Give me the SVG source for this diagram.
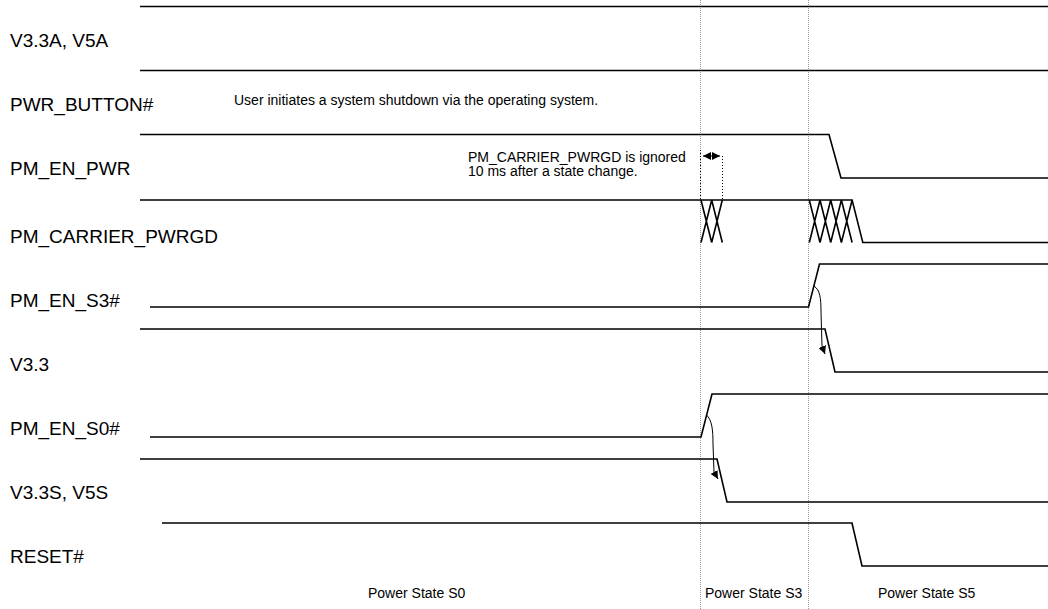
<svg xmlns="http://www.w3.org/2000/svg" width="1048" height="609" viewBox="0 0 1048 609">
<style>
.sig{fill:none;stroke:#000;stroke-width:1.6}
.grid{fill:none;stroke:#999;stroke-width:1;stroke-dasharray:1,1}
.dot{fill:none;stroke:#000;stroke-width:1;stroke-dasharray:1,2}
.cause{fill:none;stroke:#000;stroke-width:1}
.lbl{font-family:"Liberation Sans",Arial,sans-serif;font-size:19px;fill:#000}
.note{font-family:"Liberation Sans",Arial,sans-serif;font-size:14px;fill:#000}
</style>
<defs>
<marker id="ah" viewBox="0 0 10 10" refX="10" refY="5" markerWidth="8" markerHeight="8" markerUnits="userSpaceOnUse" orient="auto">
<path d="M0,0 L10,5 L0,10 z" fill="#000"/>
</marker>
<marker id="ahs" viewBox="0 0 10 10" refX="0" refY="5" markerWidth="8" markerHeight="8" markerUnits="userSpaceOnUse" orient="auto">
<path d="M10,0 L0,5 L10,10 z" fill="#000"/>
</marker>
</defs>
<rect width="1048" height="609" fill="#fff"/>
<g id="gridlines">
<line class="grid" x1="700.5" y1="0" x2="700.5" y2="609"/>
<line class="grid" x1="808.5" y1="0" x2="808.5" y2="609"/>
</g>
<g id="labels">
<text class="lbl" x="10" y="47">V3.3A, V5A</text>
<text class="lbl" x="10" y="111">PWR_BUTTON#</text>
<text class="lbl" x="10" y="174.5">PM_EN_PWR</text>
<text class="lbl" x="10" y="242.5">PM_CARRIER_PWRGD</text>
<text class="lbl" x="10" y="306.5">PM_EN_S3#</text>
<text class="lbl" x="10" y="370.5">V3.3</text>
<text class="lbl" x="10" y="434.5">PM_EN_S0#</text>
<text class="lbl" x="10" y="498.5">V3.3S, V5S</text>
<text class="lbl" x="10" y="562.5">RESET#</text>
</g>
<g id="sig-v33a"><path class="sig" d="M140,6.5 H1048"/></g>
<g id="sig-pwr-button"><path class="sig" d="M140,70.5 H1048"/>
<text class="note" x="234" y="105">User initiates a system shutdown via the operating system.</text></g>
<g id="sig-pm-en-pwr"><path class="sig" d="M140,134.5 H829 L841,178 H1048"/></g>
<g id="sig-pm-carrier-pwrgd">
<path class="sig" d="M140,200 H852.1 L862.8,242.5 H1048"/>
<path class="sig" d="M701,200 L711.7,242.5 M711.7,200 L701,242.5 M711.7,200 L722.3,242.5 M722.3,200 L711.7,242.5"/>
<path class="sig" d="M809.3,200 L820,242.5 M820,200 L809.3,242.5 M820,200 L830.7,242.5 M830.7,200 L820,242.5 M830.7,200 L841.4,242.5 M841.4,200 L830.7,242.5 M841.4,200 L852.1,242.5 M852.1,200 L841.4,242.5"/>
</g>
<g id="note-ignored">
<text class="note" x="468" y="162">PM_CARRIER_PWRGD is ignored</text>
<text class="note" x="468" y="176">10 ms after a state change.</text>
<line class="dot" x1="700.5" y1="150" x2="700.5" y2="199"/>
<line class="dot" x1="722.5" y1="156" x2="722.5" y2="199"/>
<line class="cause" x1="703" y1="156" x2="720" y2="156" marker-start="url(#ahs)" marker-end="url(#ah)"/>
</g>
<g id="sig-pm-en-s3"><path class="sig" d="M150,307 H808.5 L819.5,264 H1048"/></g>
<g id="sig-v33"><path class="sig" d="M140,329 H825 L835,372 H1048"/></g>
<g id="sig-pm-en-s0"><path class="sig" d="M150,437 H701 L712,394 H1048"/></g>
<g id="sig-v33s"><path class="sig" d="M140,459 H717 L727,502 H1048"/></g>
<g id="sig-reset"><path class="sig" d="M162,523 H852 L862,566 H1048"/></g>
<g id="connectors">
<path class="cause" d="M814,286 C820,290 821,298 821,312 L822,346 L825,354" marker-end="url(#ah)"/>
<path class="cause" d="M706.5,415 C712,420 713,430 713,444 L714,472 L718,479" marker-end="url(#ah)"/>
</g>
<g id="states">
<text class="note" x="368" y="598">Power State S0</text>
<text class="note" x="705" y="598">Power State S3</text>
<text class="note" x="878" y="598">Power State S5</text>
</g>
</svg>
